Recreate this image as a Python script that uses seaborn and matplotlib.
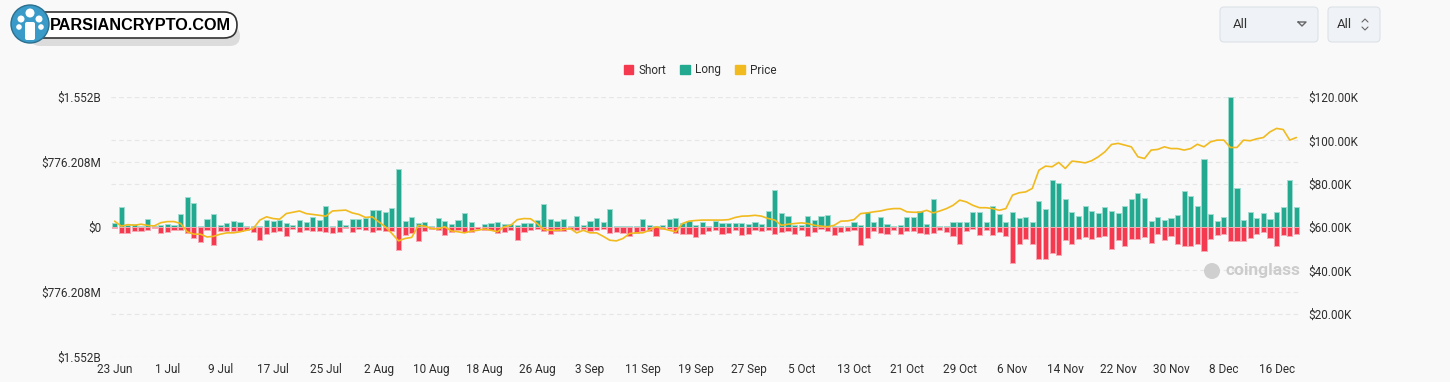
import numpy as np
import pandas as pd
import matplotlib.pyplot as plt
import seaborn as sns
from matplotlib.patches import Patch, FancyBboxPatch, Circle
from matplotlib.transforms import IdentityTransform
from matplotlib.lines import Line2D

# daily liquidations (millions USD) and BTC price (thousands USD)
dates = pd.date_range("2024-06-23", periods=180)

long_liq = [
    52, 243, 20, 36, 12, 92, 12, 24, 40, 24, 155, 358, 287, 12, 96, 155, 24, 48, 72, 56,
    12, 12, 12, 88, 72, 88, 48, 28, 84, 60, 120, 88, 247, 12, 84, 24, 100, 92, 108, 203,
    203, 179, 223, 693, 76, 116, 48, 64, 12, 108, 72, 36, 80, 171, 60, 4, 36, 44, 64, 32,
    40, 20, 44, 44, 84, 275, 92, 72, 92, 8, 127, 20, 68, 108, 64, 211, 12, 12, 12, 12,
    96, 20, 12, 20, 92, 104, 44, 68, 24, 60, 8, 72, 44, 44, 52, 48, 32, 60, 40, 187,
    438, 167, 131, 28, 20, 127, 80, 131, 139, 12, 8, 16, 60, 20, 175, 64, 116, 36, 12, 22,
    115, 119, 191, 36, 334, 16, 12, 64, 56, 56, 183, 175, 60, 251, 151, 60, 175, 111, 115, 56,
    306, 211, 565, 525, 334, 175, 135, 247, 187, 163, 235, 195, 167, 247, 338, 402, 342, 72, 119, 88,
    107, 143, 426, 370, 247, 808, 155, 76, 119, 1552, 470, 84, 179, 107, 163, 96, 183, 239, 565, 235,
]

short_liq = [
    16, 68, 68, 52, 52, 32, 16, 68, 56, 32, 36, 68, 135, 175, 36, 211, 48, 48, 48, 44,
    32, 56, 155, 88, 64, 44, 104, 28, 64, 36, 44, 48, 56, 72, 64, 16, 64, 24, 36, 64,
    40, 44, 48, 275, 100, 68, 167, 44, 28, 32, 100, 56, 32, 64, 64, 20, 36, 36, 68, 60,
    36, 151, 64, 40, 24, 44, 80, 44, 48, 28, 32, 28, 48, 32, 28, 72, 56, 76, 104, 72,
    48, 52, 104, 24, 24, 68, 88, 88, 124, 80, 52, 32, 88, 68, 40, 100, 88, 40, 48, 40,
    88, 64, 52, 84, 40, 111, 56, 28, 52, 100, 56, 44, 40, 211, 127, 52, 76, 80, 32, 88,
    52, 44, 68, 80, 68, 40, 56, 104, 199, 48, 28, 96, 36, 100, 60, 111, 434, 199, 139, 199,
    386, 378, 306, 330, 155, 199, 143, 119, 143, 115, 107, 263, 155, 231, 143, 143, 115, 187, 84, 155,
    111, 199, 223, 231, 203, 283, 139, 92, 80, 163, 163, 163, 131, 84, 60, 131, 231, 92, 104, 80,
]

price = [
    62.7, 60.4, 61.1, 60.8, 61.3, 60.7, 60.5, 62.0, 62.5, 62.5, 61.6, 57.8, 56.7, 56.7, 55.4, 55.7, 56.7, 57.3, 57.3, 57.8,
    58.5, 59.3, 63.2, 64.7, 63.9, 63.6, 66.2, 66.8, 67.4, 66.2, 65.8, 65.4, 65.0, 67.4, 67.6, 67.8, 66.5, 65.8, 64.4, 64.7,
    62.4, 60.1, 57.0, 53.6, 54.7, 55.2, 60.7, 60.4, 59.3, 59.1, 60.1, 58.2, 57.8, 57.3, 58.1, 58.5, 59.1, 58.5, 57.8, 60.1,
    60.8, 63.4, 63.9, 63.8, 61.6, 58.8, 58.5, 58.5, 58.8, 59.3, 57.3, 58.5, 57.3, 57.3, 55.7, 53.9, 53.6, 54.7, 57.0, 57.3,
    57.3, 58.5, 60.1, 59.3, 58.5, 57.8, 61.6, 62.7, 63.0, 63.2, 63.2, 63.2, 63.2, 63.4, 64.4, 65.0, 65.1, 65.4, 65.0, 63.9,
    63.2, 60.8, 61.3, 61.6, 61.9, 61.6, 60.8, 60.4, 60.1, 60.8, 62.7, 62.8, 63.4, 66.2, 66.5, 67.0, 67.4, 68.1, 68.5, 68.5,
    67.0, 66.8, 66.8, 67.7, 66.5, 67.4, 68.5, 70.0, 72.4, 71.6, 70.0, 68.9, 68.9, 68.5, 67.7, 68.5, 74.7, 75.8, 76.2, 77.8,
    86.2, 88.1, 87.8, 89.8, 87.0, 90.4, 90.1, 89.6, 90.6, 92.4, 94.7, 98.1, 98.6, 97.8, 97.0, 92.4, 91.6, 95.5, 95.8, 97.0,
    96.2, 96.2, 95.5, 96.2, 98.2, 97.0, 99.3, 100.1, 100.1, 96.7, 96.7, 100.1, 99.8, 100.7, 101.3, 103.9, 105.5, 105.0, 100.1, 101.3,
]

left_ticks = [-1552.416, -776.208, 0, 776.208, 1552.416]
left_labels = ["$1.552B", "$776.208M", "$0", "$776.208M", "$1.552B"]
right_ticks = [20, 40, 60, 80, 100, 120]
right_labels = ["$20.00K", "$40.00K", "$60.00K", "$80.00K", "$100.00K", "$120.00K"]

RED = "#f5394f"
GREEN = "#23a98f"
YELLOW = "#f1ba1e"
BG = "#f9f9f9"
TXT = "#2e2e2e"

sns.set_style("white")
plt.rcParams["font.family"] = ["Roboto", "DejaVu Sans"]

df = pd.DataFrame({
    "date": dates.strftime("%Y-%m-%d"),
    "long": long_liq,
    "short": [-v for v in short_liq],
    "price": price,
})

W, H = 1450, 382
fig = plt.figure(figsize=(W / 100, H / 100), dpi=100, facecolor=BG)
ax = fig.add_axes([111 / W, 1 - 357 / H, (1300 - 111) / W, (357 - 97) / H])
ax.set_facecolor(BG)

sns.barplot(data=df, x="date", y="long", color=GREEN, saturation=1, width=0.78,
            edgecolor="#9fdccf", linewidth=0.7, ax=ax, zorder=2)
sns.barplot(data=df, x="date", y="short", color=RED, saturation=1, width=0.78,
            edgecolor="#f8a9b3", linewidth=0.7, ax=ax, zorder=2)

ax.set_ylim(-1552.416, 1552.416)
ax.set_xlim(-0.55, len(df) - 0.45)
ax.set_yticks(left_ticks)
ax.set_yticklabels(left_labels)
tick_pos = list(range(0, len(df), 8))
ax.set_xticks(tick_pos)
ax.set_xticklabels([f"{dates[i].day} {dates[i].strftime('%b')}" for i in tick_pos])
ax.set_xlabel("")
ax.set_ylabel("")
ax.tick_params(axis="y", length=0, pad=7, labelsize=8.5, labelcolor=TXT)
ax.tick_params(axis="x", length=0, pad=4, labelsize=8.5, labelcolor=TXT)
for s in ax.spines.values():
    s.set_visible(False)

# dashed grid for both scales, behind the bars
grid_left = [-1552.416, -776.208, 776.208, 1552.416]
grid_right = [-1552.416 + t / 120 * 3104.832 for t in right_ticks]
for g in grid_left + grid_right:
    ax.axhline(g, color="#e6e6e6", lw=0.8, ls=(0, (4, 3)), zorder=0)

ax2 = ax.twinx()
sns.lineplot(x=np.arange(len(df)), y=df["price"], color=YELLOW, lw=1.2, ax=ax2)
ax2.set_ylim(0, 120)
ax2.set_yticks(right_ticks)
ax2.set_yticklabels(right_labels)
ax2.set_ylabel("")
ax2.tick_params(axis="y", length=0, pad=6, labelsize=8.5, labelcolor=TXT)
for s in ax2.spines.values():
    s.set_visible(False)

# legend
handles = [Patch(color=RED), Patch(color=GREEN), Patch(color=YELLOW)]
fig.legend(handles, ["Short", "Long", "Price"], loc="center", ncol=3, frameon=False,
           bbox_to_anchor=(700 / W, 1 - 70 / H), fontsize=8.5, handlelength=0.8,
           handleheight=0.8, handletextpad=0.45, columnspacing=1.2, labelcolor=TXT)

ident = IdentityTransform()


def px(x, y):
    return (x, H - y)


# logo
fig.add_artist(FancyBboxPatch(px(30, 46), 210, 20, boxstyle="round,pad=0,rounding_size=10",
                              transform=ident, fc="#777777", ec="none", alpha=0.22, zorder=5))
fig.add_artist(FancyBboxPatch(px(26, 38), 211, 26, boxstyle="round,pad=0,rounding_size=13",
                              transform=ident, fc="white", ec="#333333", lw=1.2, zorder=6))
fig.add_artist(Circle(px(30, 24), 19, transform=ident, fc="#3a9bc8", ec="#2b6f8f", lw=1, zorder=7))
for cx, cy, r in [(30, 13, 4.5), (21, 19, 3.5), (39, 19, 3.5), (19, 27, 2.8), (41, 27, 2.8)]:
    fig.add_artist(Circle(px(cx, cy), r, transform=ident, fc="white", ec="none", zorder=8))
fig.add_artist(FancyBboxPatch(px(25, 40), 10, 18, boxstyle="round,pad=0,rounding_size=2",
                              transform=ident, fc="white", ec="none", zorder=8))
fig.text(*px(50, 25), "PARSIANCRYPTO.COM", transform=ident, fontsize=11.7, fontweight="bold",
         family=["Liberation Sans", "DejaVu Sans"], color="black", va="center", ha="left", zorder=9)

# dropdown boxes
fig.add_artist(FancyBboxPatch(px(1220, 42), 98, 35, boxstyle="round,pad=0,rounding_size=4",
                              transform=ident, fc="#eff2f6", ec="#dde2e8", lw=0.8))
fig.text(*px(1233, 24), "All", transform=ident, fontsize=9.5, color="#333", va="center")
fig.add_artist(Line2D([1298, 1306, 1302, 1298], [H - 22, H - 22, H - 26, H - 22], transform=ident,
                      color="#666", lw=1))
fig.add_artist(FancyBboxPatch(px(1328, 42), 52, 35, boxstyle="round,pad=0,rounding_size=4",
                              transform=ident, fc="#eff2f6", ec="#dde2e8", lw=0.8))
fig.text(*px(1337, 24), "All", transform=ident, fontsize=9.5, color="#333", va="center")
fig.add_artist(Line2D([1362, 1365, 1368], [H - 22, H - 19, H - 22], transform=ident, color="#666", lw=0.8))
fig.add_artist(Line2D([1362, 1365, 1368], [H - 27, H - 30, H - 27], transform=ident, color="#666", lw=0.8))

# watermark
fig.add_artist(Circle(px(1212, 271), 8, transform=ident, fc="#cfcfcf", ec="none", zorder=1))
fig.text(*px(1226, 271), "coinglass", transform=ident, fontsize=12.5, fontweight="bold",
         color="#cccccc", va="center", ha="left", zorder=1)

fig.savefig("out.png", dpi=100, facecolor=BG)
